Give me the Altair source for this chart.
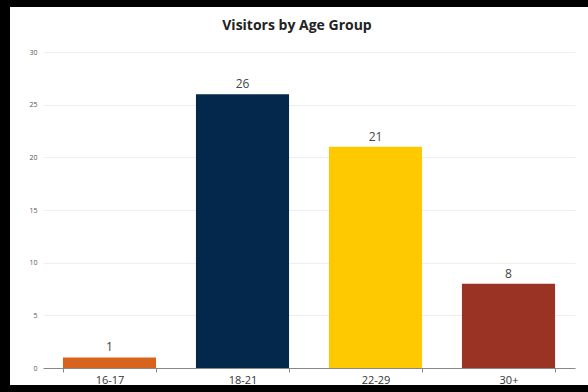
import altair as alt
import pandas as pd

groups = ["16-17", "18-21", "22-29", "30+"]
visitors = [1, 26, 21, 8]
colors = ["#D8631D", "#03284C", "#FFC900", "#9A3324"]

df = pd.DataFrame({"group": groups, "visitors": visitors})

W, H = 532, 316

x_enc = alt.X("group:N", sort=groups, title=None,
              scale=alt.Scale(paddingInner=0.3, paddingOuter=0.15),
              axis=alt.Axis(labelAngle=0, labelFontSize=11, labelColor="#333333",
                            labelFont="Open Sans", domainColor="#888888",
                            tickColor="#888888", tickSize=4, tickBand="extent",
                            labelPadding=2, grid=False))
y_enc = alt.Y("visitors:Q", title=None,
              scale=alt.Scale(domain=[0, 30], nice=False),
              axis=alt.Axis(values=[0, 5, 10, 15, 20, 25, 30], labelFontSize=7,
                            labelColor="#555555", labelFont="Open Sans",
                            domain=False, ticks=False, labelPadding=6,
                            gridColor="#eeeeee", gridWidth=1))

bars = alt.Chart(df).mark_bar().encode(
    x=x_enc, y=y_enc,
    color=alt.Color("group:N", scale=alt.Scale(domain=groups, range=colors), legend=None),
)

labels = alt.Chart(df).mark_text(baseline="bottom", dy=-3, fontSize=12,
                                 color="#444444", font="Open Sans").encode(
    x=alt.X("group:N", sort=groups), y="visitors:Q", text="visitors:Q")

frame_left = alt.Chart(df).mark_rule(color="black", strokeWidth=10).encode(
    x=alt.value(-38), y=alt.value(-52), y2=alt.value(H + 24))
frame_top = alt.Chart(df).mark_rule(color="black", strokeWidth=7).encode(
    x=alt.value(-43), x2=alt.value(W + 13), y=alt.value(-48.5))
frame_bottom = alt.Chart(df).mark_rule(color="black", strokeWidth=7).encode(
    x=alt.value(-43), x2=alt.value(W + 13), y=alt.value(H + 20.5))

chart = alt.layer(bars, labels, frame_left, frame_top, frame_bottom).properties(
    width=W, height=H,
    title=alt.TitleParams("Visitors by Age Group", fontSize=14, font="Open Sans",
                          fontWeight="bold", color="#222222", anchor="middle",
                          frame="group", baseline="alphabetic",
                          dx=-12, dy=49, offset=0),
    autosize=alt.AutoSizeParams(type="none"),
    padding={"left": 43, "top": 52, "right": 13, "bottom": 24},
).configure(background="white").configure_view(stroke=None)

chart.save("out.html", embed_options={"renderer": "svg", "actions": False})
